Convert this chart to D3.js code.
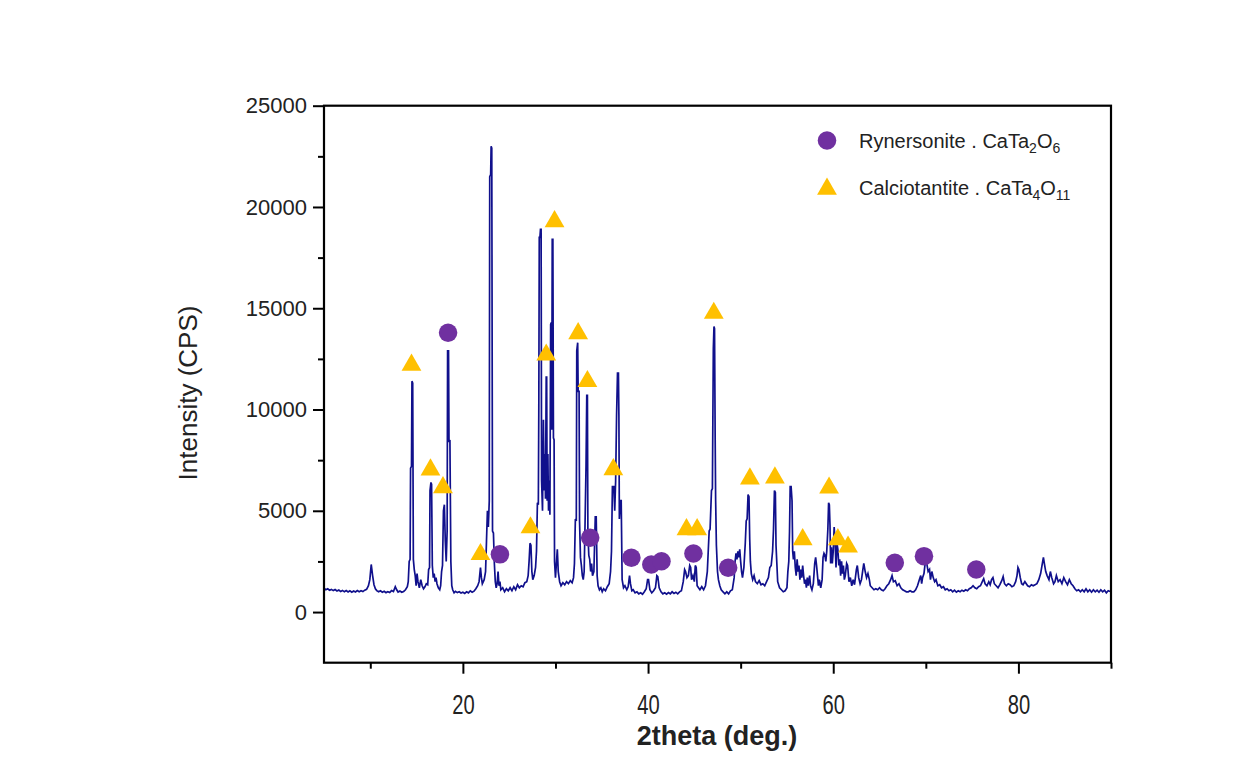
<!DOCTYPE html>
<html><head><meta charset="utf-8">
<script src="https://cdn.jsdelivr.net/npm/d3@7"></script>
<style>
body{margin:0;background:#fff;}
text{font-family:"Liberation Sans",Arial,sans-serif;fill:#222;}
</style>
</head><body>
<svg id="chart" width="1243" height="766"></svg>
<script>
// ---- data (2theta in degrees, intensity in CPS) ----
const pattern = [
[5.0,1180],[5.2,1100],[5.4,1150],[5.6,1080],[5.8,1120],[6.0,1060],[6.2,1110],[6.4,1040],[6.6,1090],[6.8,1020],
[7.0,1070],[7.2,1000],[7.4,1060],[7.6,990],[7.8,1050],[8.0,980],[8.2,1040],[8.4,990],[8.6,1060],[8.8,1000],
[9.0,1050],[9.2,1010],[9.4,1080],[9.6,1120],[9.8,1300],[9.95,1600],[10.1,2350],[10.25,1800],[10.4,1350],[10.55,1150],
[10.7,1060],[10.9,1000],[11.1,1050],[11.3,980],[11.5,1030],[11.7,960],[11.9,1010],[12.1,970],[12.3,1060],[12.5,1010],
[12.7,1250],[12.85,1100],[13.0,990],[13.2,1040],[13.4,980],[13.6,1020],[13.8,1100],[14.0,1250],[14.1,1500],[14.2,2500],
[14.3,2600],[14.35,7100],[14.45,7200],[14.5,11400],[14.58,11300],[14.65,2600],[14.75,2100],[14.85,1800],[14.95,1300],[15.05,1900],
[15.15,1500],[15.3,1200],[15.45,1600],[15.6,1300],[15.75,1150],[15.9,1250],[16.05,1400],[16.2,1350],[16.3,2100],[16.4,2200],
[16.45,6000],[16.55,6400],[16.62,6300],[16.7,2300],[16.8,1700],[16.9,1900],[17.0,1500],[17.1,1700],[17.2,1400],[17.35,1200],
[17.5,1100],[17.6,1300],[17.7,2000],[17.8,2300],[17.9,5000],[18.0,5300],[18.1,3500],[18.2,2500],[18.3,4000],[18.35,12900],
[18.45,12900],[18.5,8400],[18.6,8500],[18.7,2500],[18.8,1300],[18.9,1100],[19.05,950],[19.2,1020],[19.4,960],[19.6,1000],
[19.8,940],[20.0,980],[20.2,920],[20.4,1000],[20.6,950],[20.8,1050],[21.0,980],[21.2,1030],[21.4,1150],[21.6,1300],
[21.75,1500],[21.9,2200],[22.0,1700],[22.1,1400],[22.3,1600],[22.45,2000],[22.55,3500],[22.65,5000],[22.75,4200],[22.85,5500],
[22.9,21500],[23.0,21600],[23.05,23000],[23.12,22900],[23.2,4000],[23.3,3900],[23.4,2400],[23.5,1500],[23.6,1200],[23.7,1400],
[23.8,2000],[23.9,1300],[24.0,1500],[24.1,1100],[24.3,1200],[24.5,1000],[24.7,1150],[24.9,1050],[25.1,1200],[25.3,1050],
[25.5,1250],[25.7,1100],[25.9,1350],[26.1,1200],[26.3,1300],[26.5,1250],[26.7,1450],[26.9,1500],[27.05,1800],[27.15,2500],
[27.25,3400],[27.35,3300],[27.45,2000],[27.55,1600],[27.7,1800],[27.85,2200],[27.95,3000],[28.05,5400],[28.15,5300],[28.2,10000],
[28.25,18500],[28.32,18500],[28.38,18900],[28.45,18900],[28.5,6500],[28.6,5000],[28.7,9500],[28.78,6000],[28.85,7800],[28.92,5600],
[29.0,11600],[29.05,11600],[29.1,5500],[29.18,7800],[29.25,5000],[29.32,6500],[29.4,4800],[29.48,14200],[29.55,14300],[29.6,9000],
[29.65,18400],[29.72,18400],[29.78,8600],[29.85,8500],[29.9,2500],[30.0,1700],[30.1,2400],[30.2,3100],[30.3,2000],[30.45,1500],
[30.6,1300],[30.8,1450],[31.0,1350],[31.2,1500],[31.4,1400],[31.6,1550],[31.8,1450],[31.95,1700],[32.05,2400],[32.15,4600],
[32.25,4500],[32.3,12900],[32.4,13300],[32.45,10900],[32.55,10900],[32.6,4500],[32.7,2700],[32.8,2300],[32.9,1800],[33.0,1600],
[33.1,2000],[33.2,4500],[33.3,7200],[33.38,10700],[33.45,10700],[33.5,4000],[33.6,2800],[33.7,2600],[33.8,2000],[33.9,2400],
[34.0,1800],[34.15,2000],[34.3,4700],[34.4,4700],[34.5,1800],[34.6,1300],[34.75,1100],[34.9,1200],[35.05,1000],[35.2,1150],
[35.4,1050],[35.6,1250],[35.8,1400],[35.95,2000],[36.05,3000],[36.15,6200],[36.3,6200],[36.4,5000],[36.5,6500],[36.6,9700],
[36.7,11800],[36.8,11800],[36.85,9700],[36.9,4600],[37.0,5500],[37.1,5500],[37.2,1600],[37.35,1200],[37.5,1300],[37.7,1100],
[37.85,1250],[38.0,1800],[38.1,1400],[38.25,1050],[38.4,1100],[38.6,950],[38.8,1000],[39.0,900],[39.2,950],[39.4,880],
[39.6,1000],[39.8,1150],[39.95,1600],[40.05,1600],[40.2,1100],[40.4,950],[40.6,1050],[40.8,1200],[40.95,1800],[41.05,1750],
[41.2,1200],[41.4,1000],[41.6,900],[41.8,950],[42.0,880],[42.2,960],[42.4,900],[42.6,1000],[42.8,920],[43.0,980],
[43.2,900],[43.4,1000],[43.6,1050],[43.8,1500],[43.95,2100],[44.05,2000],[44.2,1700],[44.35,1800],[44.5,2300],[44.6,2200],
[44.7,1600],[44.85,1800],[45.0,1500],[45.1,2300],[45.2,2200],[45.3,1300],[45.45,1200],[45.6,1100],[45.8,1250],[46.0,1100],
[46.2,1300],[46.4,2000],[46.5,3000],[46.6,4000],[46.7,4100],[46.85,6000],[46.95,6100],[47.05,13000],[47.12,14100],[47.18,14000],
[47.25,8500],[47.3,5500],[47.38,3300],[47.5,2000],[47.6,1600],[47.75,1300],[47.9,1100],[48.1,1000],[48.3,900],[48.5,1000],
[48.7,900],[48.9,1050],[49.1,1100],[49.3,1700],[49.4,2500],[49.5,2900],[49.6,2600],[49.7,3000],[49.8,2700],[49.9,3100],
[50.0,2500],[50.1,2000],[50.2,1700],[50.35,2200],[50.5,3400],[50.6,4500],[50.7,4600],[50.8,5800],[50.9,5700],[50.98,3600],
[51.05,2500],[51.15,1900],[51.3,1600],[51.45,1800],[51.6,1500],[51.8,1400],[52.0,1550],[52.2,1350],[52.4,1400],[52.6,1300],
[52.8,1500],[53.0,1700],[53.15,2200],[53.3,2300],[53.45,3000],[53.55,4100],[53.65,6000],[53.75,5900],[53.82,3300],[53.9,2500],
[54.0,1500],[54.2,1200],[54.4,1100],[54.6,1000],[54.8,1050],[55.0,1200],[55.1,2000],[55.2,2500],[55.28,4000],[55.35,6200],
[55.45,6200],[55.55,5500],[55.62,3000],[55.7,2600],[55.8,3000],[55.9,2200],[56.0,1800],[56.1,2600],[56.2,2000],[56.3,2300],
[56.4,1600],[56.5,2100],[56.6,1700],[56.7,2300],[56.8,1800],[56.9,1400],[57.0,1600],[57.1,1200],[57.2,1700],[57.3,1300],
[57.45,1800],[57.55,1300],[57.7,1100],[57.85,1400],[58.0,2400],[58.1,2700],[58.2,2300],[58.3,1800],[58.4,1300],[58.5,1600],
[58.65,1200],[58.8,1600],[58.9,2700],[59.0,2900],[59.1,2800],[59.2,2500],[59.3,3000],[59.42,4100],[59.5,5400],[59.58,5300],
[59.65,4300],[59.72,2400],[59.8,3200],[59.9,2400],[60.0,3000],[60.1,4200],[60.2,3500],[60.3,2200],[60.4,3400],[60.5,3100],
[60.6,2300],[60.7,2600],[60.8,1800],[60.9,2500],[61.0,1900],[61.1,2300],[61.2,1600],[61.3,1800],[61.45,2400],[61.55,2300],
[61.7,1500],[61.85,1700],[62.0,1300],[62.15,1600],[62.3,1350],[62.5,2100],[62.6,2300],[62.75,1700],[62.9,1400],[63.05,1600],
[63.2,2100],[63.3,2400],[63.45,2000],[63.6,1700],[63.75,1900],[63.9,1600],[64.0,1300],[64.2,1200],[64.4,1100],[64.6,1150],
[64.8,1100],[65.0,1200],[65.2,1100],[65.4,1050],[65.6,1150],[65.8,1300],[66.0,1400],[66.2,1600],[66.35,1800],[66.5,1500],
[66.7,1550],[66.9,1300],[67.1,1400],[67.3,1200],[67.5,1100],[67.7,1050],[67.9,1000],[68.1,1000],[68.3,1050],[68.5,1000],
[68.7,1000],[68.9,1100],[69.1,1300],[69.3,1600],[69.45,1800],[69.55,1400],[69.65,1700],[69.8,1900],[69.9,2300],[70.0,2500],
[70.1,2400],[70.25,2000],[70.4,2100],[70.5,1600],[70.65,2000],[70.8,1700],[70.95,1500],[71.1,1600],[71.3,1300],[71.5,1350],
[71.7,1200],[71.9,1250],[72.1,1100],[72.3,1150],[72.5,1050],[72.7,1100],[72.9,1000],[73.1,1080],[73.3,980],[73.5,1050],
[73.7,1000],[73.9,1080],[74.1,1030],[74.3,1100],[74.5,1050],[74.7,1150],[74.9,1200],[75.1,1300],[75.3,1200],[75.5,1150],
[75.7,1250],[75.9,1300],[76.1,1500],[76.25,1650],[76.4,1400],[76.6,1300],[76.8,1500],[76.95,1350],[77.1,1600],[77.25,1700],
[77.4,1400],[77.6,1300],[77.8,1200],[78.0,1350],[78.2,1550],[78.35,1750],[78.5,1400],[78.7,1300],[78.9,1400],[79.1,1350],
[79.3,1250],[79.5,1300],[79.7,1500],[79.85,1800],[79.95,2200],[80.05,2100],[80.2,1700],[80.35,1400],[80.5,1350],[80.7,1500],
[80.85,1400],[81.0,1300],[81.2,1250],[81.4,1350],[81.6,1300],[81.8,1350],[82.0,1400],[82.2,1600],[82.4,1900],[82.55,2300],
[82.7,2700],[82.8,2400],[82.95,2000],[83.1,1800],[83.3,1600],[83.45,2000],[83.6,1700],[83.8,1400],[83.95,1500],[84.1,1800],
[84.3,1500],[84.5,1600],[84.7,1400],[84.9,1700],[85.1,1500],[85.3,1350],[85.5,1600],[85.7,1400],[85.9,1300],[86.1,1150],
[86.3,1050],[86.5,1100],[86.7,1000],[86.9,1100],[87.1,1000],[87.3,1150],[87.5,1000],[87.7,1100],[87.9,980],[88.1,1100],
[88.3,1000],[88.5,1080],[88.7,980],[88.9,1100],[89.1,1000],[89.3,1080],[89.5,950],[89.7,1050],[90.0,1000]
];

const rynersonite = [[18.4,13790],[24.0,2850],[33.75,3670],[38.2,2680],[40.35,2350],[41.45,2510],[44.9,2890],[48.65,2190],[66.65,2430],[69.8,2760],[75.45,2100]];
const calciotantite = [[14.45,12200],[16.5,7030],[17.85,6150],[21.9,2850],[27.3,4170],[29.0,12700],[29.9,19280],[32.45,13750],[33.45,11390],[36.25,7040],[44.15,4080],[45.3,4080],[47.1,14760],[51.0,6580],[53.7,6630],[56.7,3580],[59.55,6130],[60.5,3580],[61.6,3220]];

const xMajorTicks = [20,40,60,80];
const xMinorTicks = [10,30,50,70,90];
const yMajorTicks = [0,5000,10000,15000,20000,25000];
const yMinorTicks = [2500,7500,12500,17500,22500];

const xTitle = "2theta (deg.)";
const yTitle = "Intensity (CPS)";
const legendItems = [
  {name:"Rynersonite . CaTa", sub1:"2", mid:"O", sub2:"6", shape:"circle"},
  {name:"Calciotantite . CaTa", sub1:"4", mid:"O", sub2:"11", shape:"triangle"}
];

// ---- drawing ----
const svg = d3.select("#chart");
const L=324, R=1111, T=105.7, B=662.7;
const x = d3.scaleLinear().domain([5,90]).range([L,R]);
const y = d3.scaleLinear().domain([-2500,25000]).range([B,T]);

const lineColor = "#10108c", purple="#7030a0", gold="#ffc000";

svg.append("clipPath").attr("id","clip").append("rect")
  .attr("x",L).attr("y",T).attr("width",R-L).attr("height",B-T);

svg.append("path").datum(pattern)
  .attr("clip-path","url(#clip)")
  .attr("fill","none").attr("stroke",lineColor).attr("stroke-width",1.7)
  .attr("stroke-linejoin","miter")
  .attr("d",d3.line().x(d=>x(d[0])).y(d=>y(d[1])));

// markers
const circleSym = d3.symbol().type(d3.symbolCircle).size(270);
const triSym = d3.symbol().type(d3.symbolTriangle).size(170);
svg.append("g").selectAll("path").data(rynersonite).join("path")
  .attr("d",circleSym).attr("fill",purple)
  .attr("transform",d=>`translate(${x(d[0])},${y(d[1])})`);
svg.append("g").selectAll("path").data(calciotantite).join("path")
  .attr("d",triSym).attr("fill",gold)
  .attr("transform",d=>`translate(${x(d[0])},${y(d[1])})`);

// axes
function styleAxis(g){
  g.select(".domain").remove();
  g.selectAll("line").attr("stroke","#000").attr("stroke-width",2);
}
const gx = svg.append("g").attr("transform",`translate(0,${B})`)
  .call(d3.axisBottom(x).tickValues(xMajorTicks).tickSize(11).tickPadding(20).tickFormat(d3.format("d")))
  .call(styleAxis);
gx.selectAll("text").attr("font-size",28).attr("fill","#222")
  .attr("transform","scale(0.72,1)").attr("dy","0.72em");
svg.append("g").attr("transform",`translate(0,${B})`)
  .call(d3.axisBottom(x).tickValues(xMinorTicks).tickSize(6).tickFormat(""))
  .call(styleAxis);

const gy = svg.append("g").attr("transform",`translate(${L},0)`)
  .call(d3.axisLeft(y).tickValues(yMajorTicks).tickSize(11).tickPadding(6).tickFormat(d3.format("d")))
  .call(styleAxis);
gy.selectAll("text").attr("font-size",22).attr("fill","#222");
svg.append("g").attr("transform",`translate(${L},0)`)
  .call(d3.axisLeft(y).tickValues(yMinorTicks).tickSize(6).tickFormat(""))
  .call(styleAxis);

// frame
svg.append("rect").attr("x",L).attr("y",T).attr("width",R-L).attr("height",B-T)
  .attr("fill","none").attr("stroke","#000").attr("stroke-width",2.2);

// titles
svg.append("text").attr("x",717).attr("y",745).attr("text-anchor","middle")
  .attr("font-size",27).attr("font-weight","bold").attr("fill","#111").text(xTitle);
svg.append("text").attr("transform","translate(197,393) rotate(-90)").attr("text-anchor","middle")
  .attr("font-size",26).attr("fill","#111").text(yTitle);

// legend
const lg = svg.append("g");
legendItems.forEach((it,i)=>{
  const cy = 140.5 + i*47.5;
  lg.append("path").attr("d", it.shape==="circle"?circleSym():triSym())
    .attr("fill", it.shape==="circle"?purple:gold)
    .attr("transform",`translate(827,${cy + (it.shape==="circle"?0:1)})`);
  const t = lg.append("text").attr("x",859).attr("y",cy+7).attr("font-size",20).attr("fill","#222");
  t.append("tspan").text(it.name);
  t.append("tspan").attr("font-size",14).attr("dy",5).text(it.sub1);
  t.append("tspan").attr("dy",-5).text(it.mid);
  t.append("tspan").attr("font-size",14).attr("dy",5).text(it.sub2);
});
</script>
</body></html>
